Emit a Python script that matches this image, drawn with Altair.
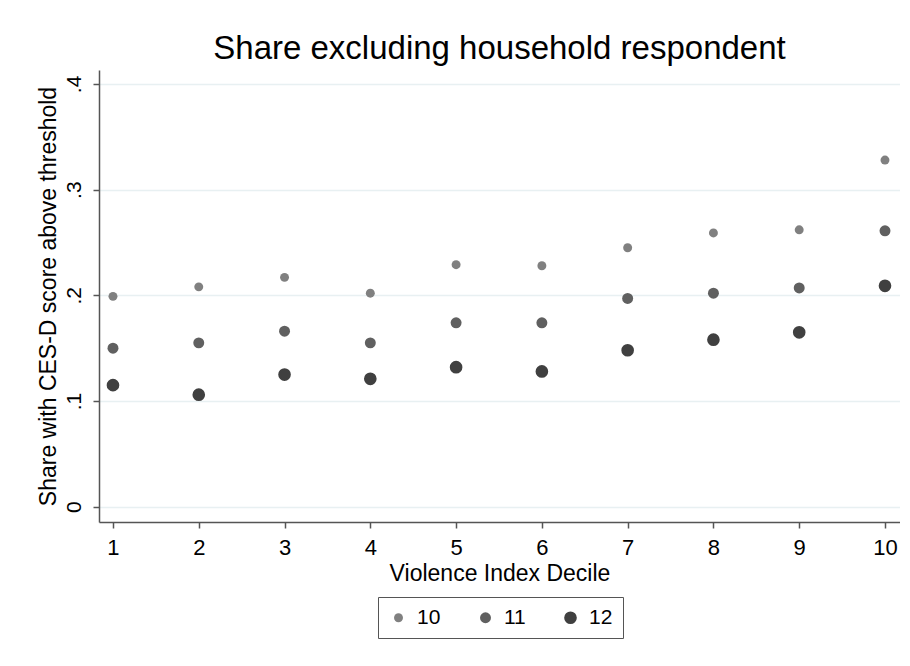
import altair as alt
import pandas as pd

deciles = [1, 2, 3, 4, 5, 6, 7, 8, 9, 10]
series_names = ["10", "11", "12"]
s10 = [0.199, 0.208, 0.217, 0.202, 0.229, 0.228, 0.245, 0.259, 0.262, 0.328]
s11 = [0.150, 0.155, 0.166, 0.155, 0.174, 0.174, 0.197, 0.202, 0.207, 0.261]
s12 = [0.115, 0.106, 0.125, 0.121, 0.132, 0.128, 0.148, 0.158, 0.165, 0.209]

rows = []
for name, vals in zip(series_names, [s10, s11, s12]):
    for d, v in zip(deciles, vals):
        rows.append({"decile": d, "share": v, "series": name})
df = pd.DataFrame(rows)

FONT = "Liberation Sans"

legend_cfg = dict(title=None, orient="none", direction="horizontal",
                  legendX=279, legendY=527,
                  strokeColor="#555555", padding=10,
                  labelFontSize=21, symbolType="circle",
                  columnPadding=34, labelOffset=8)

chart = alt.Chart(df).mark_circle(opacity=1).encode(
    x=alt.X("decile:Q",
            scale=alt.Scale(domain=[0.837, 10.175], nice=False, zero=False),
            axis=alt.Axis(values=deciles, title="Violence Index Decile", grid=False,
                          labelFontSize=22, titleFontSize=23, labelPadding=9,
                          titlePadding=4, tickSize=6, format="d")),
    y=alt.Y("share:Q",
            scale=alt.Scale(domain=[-0.0145, 0.4132], nice=False, zero=False),
            axis=alt.Axis(values=[0, 0.1, 0.2, 0.3, 0.4],
                          title="Share with CES-D score above threshold",
                          labelExpr="datum.value == 0 ? '0' : replace(format(datum.value, '.1f'), '0.', '.')",
                          labelAngle=270, labelAlign="center", labelBaseline="bottom",
                          labelFontSize=21, titleFontSize=23, labelPadding=9,
                          titlePadding=3, tickSize=6, grid=True)),
    color=alt.Color("series:O", scale=alt.Scale(domain=series_names,
                                                range=["#808080", "#606060", "#404040"]),
                    legend=alt.Legend(**legend_cfg)),
    size=alt.Size("series:O", scale=alt.Scale(domain=series_names, range=[80, 160, 320]),
                  legend=alt.Legend(**legend_cfg)),
).properties(
    width=801, height=452,
    title=alt.TitleParams("Share excluding household respondent", fontSize=33,
                          fontWeight="normal", color="black", anchor="middle", offset=4),
    autosize=alt.AutoSizeParams(type="none"),
    padding={"left": 91, "top": 62, "right": 0, "bottom": 140},
).configure(font=FONT).configure_view(strokeWidth=0, stroke="transparent").configure_axis(
    domainColor="#555555", tickColor="#555555", domainWidth=1.5, tickWidth=1.5,
    labelColor="black", titleColor="black", titleFontWeight="normal",
    gridColor="#e8f0f2", gridWidth=1.5, labelFont=FONT, titleFont=FONT,
).configure_legend(labelColor="black", labelFont=FONT)

chart.save("out.html", embed_options={"renderer": "svg", "actions": False})
